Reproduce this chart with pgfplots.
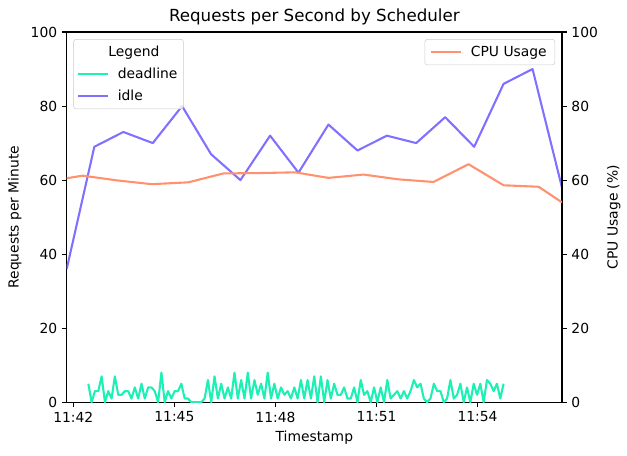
\documentclass[border=0pt]{standalone}
\usepackage{fontspec}
\setmainfont{DejaVu Sans}
\usepackage{pgfplots}
\usepackage{pgfplotstable}
\pgfplotsset{compat=1.18}
\definecolor{cdead}{RGB}{29,240,180}
\definecolor{cidle}{RGB}{128,112,255}
\definecolor{ccpu}{RGB}{255,145,110}
\definecolor{lgedge}{gray}{0.8}

% time in seconds after 11:42:00
\pgfplotstableread{
t v
26.7 5
32.6 0
38.5 3
44.5 3
50.4 7
56.3 0
62.2 3
68.1 1
74.0 7
80.0 2
85.9 2
91.8 3
97.7 3
103.6 1
109.5 4
115.5 1
121.4 5
127.3 1
133.2 4
139.1 4
145.0 3
151.0 0
156.9 8
162.8 0
168.7 3
174.6 1
180.5 3
186.5 3
192.4 5
198.3 1
204.2 1
210.1 0
216.0 0
222.0 0
227.9 0
233.8 1
239.7 6
245.6 0
251.5 7
257.5 1
263.4 5
269.3 1
275.2 4
281.1 1
287.0 8
293.0 1
298.9 6
304.8 1
310.7 8
316.6 1
322.6 6
328.5 2
334.4 5
340.3 1
346.2 8
352.1 1
358.1 5
364.0 1
369.9 4
375.8 2
381.7 3
387.6 1
393.6 4
399.5 1
405.4 6
411.3 1
417.2 6
423.1 1
429.1 7
435.0 0
440.9 7
446.8 0
452.7 6
458.6 1
464.6 5
470.5 2
476.4 2
482.3 4
488.2 1
494.1 1
500.1 4
506.0 0
511.9 6
517.8 2
523.7 3
529.6 0
535.6 4
541.5 0
547.4 4
553.3 0
559.2 6
565.1 1
571.1 2
577.0 3
582.9 1
588.8 3
594.7 1
600.6 3
606.6 6
612.5 4
618.4 5
624.3 1
630.2 0
636.1 1
642.1 5
648.0 3
653.9 3
659.8 0
665.7 1
671.6 6
677.6 1
683.5 2
689.4 5
695.3 0
701.2 4
707.1 0
713.1 5
719.0 2
724.9 5
730.8 0
736.7 6
742.6 5
748.6 3
754.5 5
760.4 1
766.3 5
}\deadline

\pgfplotstableread{
t v
-11.8 36
37.4 69
89.1 73
141.5 70
193.7 80
245.3 67
297.6 60
350.5 72
401.0 62
454.4 75
506.1 68
558.5 72
610.7 70
662.3 77
714.0 69
766.3 86
817.9 90
870.3 58
}\idle

\pgfplotstableread{
t v
-11.8 60.5
16.7 61.2
78.8 59.9
139.7 58.9
204.9 59.4
267.3 61.8
330.9 61.9
395.0 62.1
454.4 60.6
516.8 61.5
579.2 60.2
641.5 59.5
703.9 64.3
766.3 58.6
828.7 58.2
870.3 54.0
}\cpu

\begin{document}
\begin{tikzpicture}
\path[use as bounding box] (-50pt,-39.75pt) rectangle (420pt,301.5pt);
\pgfplotsset{
  base/.style={
    scale only axis, width=371.25pt, height=277.5pt,
    xmin=-11.8, xmax=870.3, ymin=0, ymax=100,
    tick align=outside, major tick length=3.6pt,
    axis line style={line width=0.8pt},
    every tick/.style={black, line width=0.8pt},
    /pgf/number format/assume math mode=true,
    tick label style={font=\fontsize{10.4}{12}\selectfont},
    label style={font=\fontsize{10.4}{12}\selectfont},
    ytick={0,20,40,60,80,100},
    legend style={draw=lgedge, rounded corners=2pt, fill=white, fill opacity=0.8, text opacity=1,
      font=\fontsize{10.4}{12}\selectfont, inner xsep=2.5pt, inner ysep=3pt,
      row sep=3pt},
    legend cell align=left,
    legend image code/.code={\draw[#1, line width=1.56pt] (0pt,0pt) -- (22.5pt,0pt);
      \path (27pt,0pt);},
  }
}
\begin{axis}[base,
  xtick={0,180,360,540,720},
  xticklabels={11:42,11:45,11:48,11:51,11:54},
  xtick pos=bottom, ytick pos=left,
  xlabel={Timestamp}, ylabel={Requests per Minute},
  title={Requests per Second by Scheduler},
  title style={font=\fontsize{12.5}{15}\selectfont, yshift=-4.5pt},
  legend style={at={(0.0135,0.981)}, anchor=north west},
]
\addlegendimage{empty legend}
\addlegendentry{\hspace{-7pt}Legend}
\addplot[cdead, line width=1.56pt, line join=round] table[x=t, y=v] {\deadline};
\addlegendentry{deadline}
\addplot[cidle, line width=1.56pt, line join=round] table[x=t, y=v] {\idle};
\addlegendentry{idle}
\end{axis}
\begin{axis}[base,
  axis y line*=right, axis x line=none,
  ylabel={CPU Usage (\%)},
  legend style={at={(0.986,0.981)}, anchor=north east, inner xsep=4pt},
]
\addplot[ccpu, line width=1.56pt, line join=round] table[x=t, y=v] {\cpu};
\addlegendentry{CPU Usage}
\end{axis}
\end{tikzpicture}
\end{document}
